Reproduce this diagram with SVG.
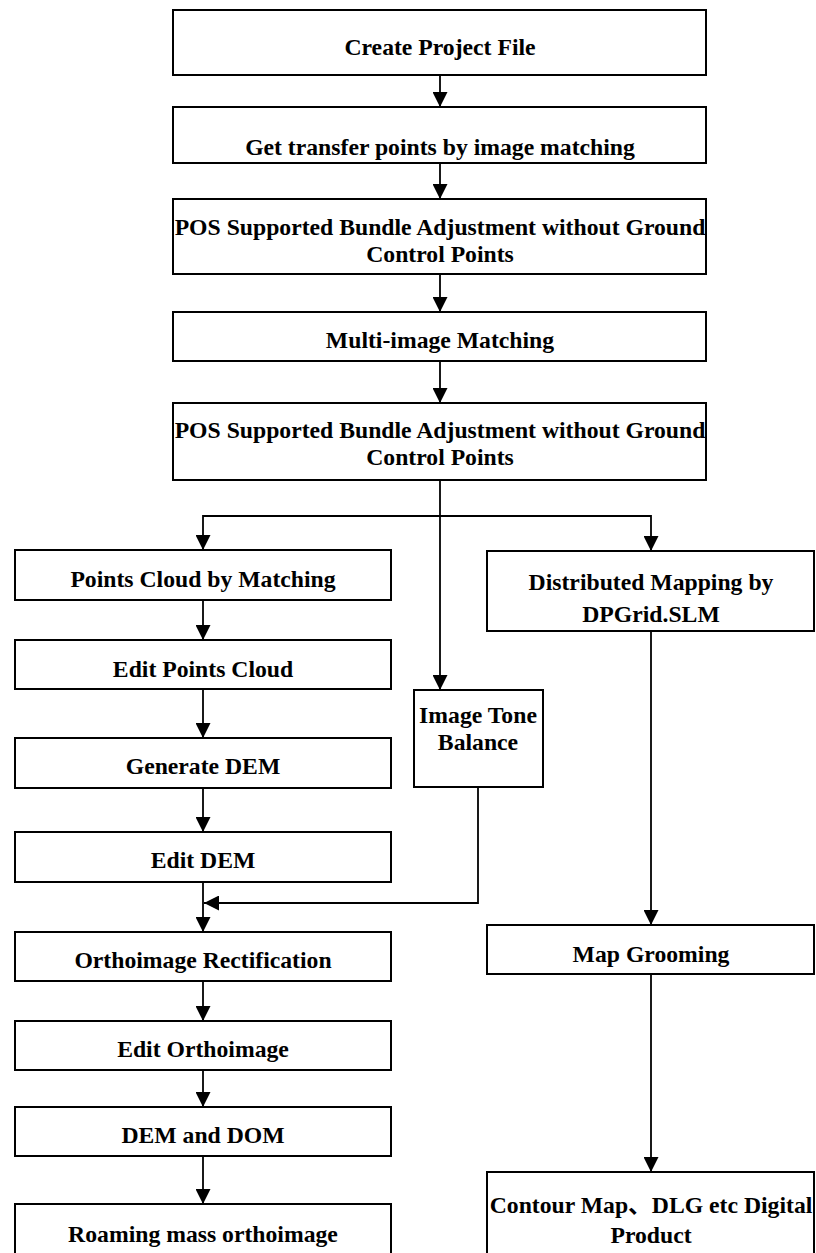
<svg xmlns="http://www.w3.org/2000/svg" width="816" height="1253" viewBox="0 0 816 1253">
<style>
.box{fill:#fff;stroke:#000;stroke-width:2}
.t{font-family:"Liberation Serif","Times New Roman","Noto Sans CJK SC",serif;font-weight:bold;font-size:23.7px;fill:#000;text-anchor:middle}
.c{fill:none;stroke:#000;stroke-width:1.8}
</style>
<defs>
<marker id="ah" markerUnits="userSpaceOnUse" markerWidth="15" markerHeight="15" refX="15" refY="7.5" orient="auto">
<path d="M0,0 L15,7.5 L0,15 z" fill="#000"/>
</marker>
</defs>
<rect width="816" height="1253" fill="#fff"/>
<g id="connectors">
<path class="c" d="M440,75 V107" marker-end="url(#ah)"/>
<path class="c" d="M440,163 V199" marker-end="url(#ah)"/>
<path class="c" d="M440,274 V312" marker-end="url(#ah)"/>
<path class="c" d="M440,361 V403" marker-end="url(#ah)"/>
<path class="c" d="M440,480 V690" marker-end="url(#ah)"/>
<path class="c" d="M440,516 H203 V550" marker-end="url(#ah)"/>
<path class="c" d="M440,516 H651 V551" marker-end="url(#ah)"/>
<path class="c" d="M203,600 V640" marker-end="url(#ah)"/>
<path class="c" d="M203,689 V738" marker-end="url(#ah)"/>
<path class="c" d="M203,788 V832" marker-end="url(#ah)"/>
<path class="c" d="M203,882 V932" marker-end="url(#ah)"/>
<path class="c" d="M478,787 V903 H204" marker-end="url(#ah)"/>
<path class="c" d="M651,631 V925" marker-end="url(#ah)"/>
<path class="c" d="M651,974 V1172" marker-end="url(#ah)"/>
<path class="c" d="M203,981 V1021" marker-end="url(#ah)"/>
<path class="c" d="M203,1070 V1107" marker-end="url(#ah)"/>
<path class="c" d="M203,1156 V1204" marker-end="url(#ah)"/>
</g>
<g id="n1"><rect class="box" x="173" y="10" width="533" height="65"/><text class="t" x="440" y="55">Create Project File</text></g>
<g id="n2"><rect class="box" x="173" y="107" width="533" height="56"/><text class="t" x="440" y="155">Get transfer points by image matching</text></g>
<g id="n3"><rect class="box" x="173" y="199" width="533" height="75"/><text class="t" x="440" y="235">POS Supported Bundle Adjustment without Ground</text><text class="t" x="440" y="262">Control Points</text></g>
<g id="n4"><rect class="box" x="173" y="312" width="533" height="49"/><text class="t" x="440" y="348">Multi-image Matching</text></g>
<g id="n5"><rect class="box" x="173" y="403" width="533" height="77"/><text class="t" x="440" y="438">POS Supported Bundle Adjustment without Ground</text><text class="t" x="440" y="465">Control Points</text></g>
<g id="n6"><rect class="box" x="15" y="550" width="376" height="50"/><text class="t" x="203" y="587">Points Cloud by Matching</text></g>
<g id="n7"><rect class="box" x="487" y="551" width="327" height="80"/><text class="t" x="651" y="590">Distributed Mapping by</text><text class="t" x="651" y="622">DPGrid.SLM</text></g>
<g id="n8"><rect class="box" x="15" y="640" width="376" height="49"/><text class="t" x="203" y="677">Edit Points Cloud</text></g>
<g id="n9"><rect class="box" x="414" y="690" width="129" height="97"/><text class="t" x="478" y="723">Image Tone</text><text class="t" x="478" y="750">Balance</text></g>
<g id="n10"><rect class="box" x="15" y="738" width="376" height="50"/><text class="t" x="203" y="774">Generate DEM</text></g>
<g id="n11"><rect class="box" x="15" y="832" width="376" height="50"/><text class="t" x="203" y="868">Edit DEM</text></g>
<g id="n12"><rect class="box" x="15" y="932" width="376" height="49"/><text class="t" x="203" y="968">Orthoimage Rectification</text></g>
<g id="n13"><rect class="box" x="487" y="925" width="327" height="49"/><text class="t" x="651" y="962">Map Grooming</text></g>
<g id="n14"><rect class="box" x="15" y="1021" width="376" height="49"/><text class="t" x="203" y="1057">Edit Orthoimage</text></g>
<g id="n15"><rect class="box" x="15" y="1107" width="376" height="49"/><text class="t" x="203" y="1143">DEM and DOM</text></g>
<g id="n16"><rect class="box" x="15" y="1204" width="376" height="56"/><text class="t" x="203" y="1242">Roaming mass orthoimage</text></g>
<g id="n17"><rect class="box" x="487" y="1172" width="327" height="90"/><text class="t" x="651" y="1213">Contour Map、DLG etc Digital</text><text class="t" x="651" y="1243">Product</text></g>
</svg>
